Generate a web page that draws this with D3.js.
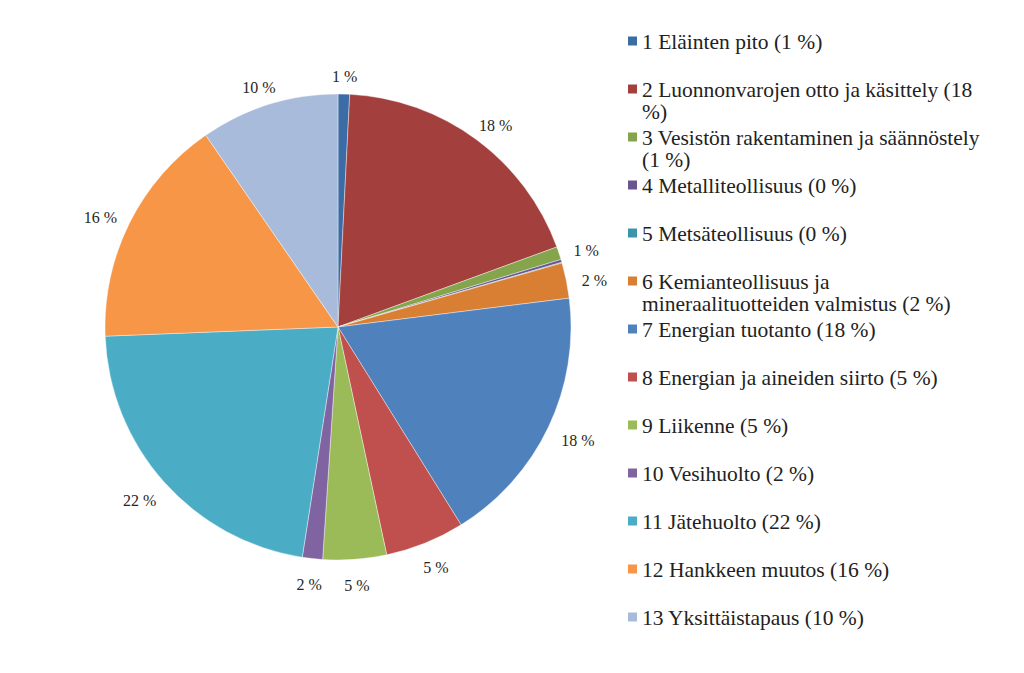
<!DOCTYPE html>
<html>
<head>
<meta charset="utf-8">
<script src="https://cdn.jsdelivr.net/npm/d3@7"></script>
</head>
<body style="margin:0">
<svg id="chart" width="1024" height="673"></svg>
<script>
// category names (legend order = slice order, clockwise from 12 o'clock)
var categories = [
  "1 Eläinten pito", "2 Luonnonvarojen otto ja käsittely", "3 Vesistön rakentaminen ja säännöstely",
  "4 Metalliteollisuus", "5 Metsäteollisuus", "6 Kemianteollisuus ja mineraalituotteiden valmistus",
  "7 Energian tuotanto", "8 Energian ja aineiden siirto", "9 Liikenne", "10 Vesihuolto",
  "11 Jätehuolto", "12 Hankkeen muutos", "13 Yksittäistapaus"
];
// share of cases
var values = [0.8, 18.6, 0.9, 0.2, 0.05, 2.45, 18.1, 5.5, 4.4, 1.4, 21.9, 16.0, 9.6];
// data labels shown on the chart
var pctLabels = ["1 %", "18 %", "1 %", "", "", "2 %", "18 %", "5 %", "5 %", "2 %", "22 %", "16 %", "10 %"];
// legend text, broken where the original breaks
var legendLabels = [
  ["1 Eläinten pito (1 %)"],
  ["2 Luonnonvarojen otto ja käsittely (18", "%)"],
  ["3 Vesistön rakentaminen ja säännöstely", "(1 %)"],
  ["4 Metalliteollisuus (0 %)"],
  ["5 Metsäteollisuus (0 %)"],
  ["6 Kemianteollisuus ja", "mineraalituotteiden valmistus (2 %)"],
  ["7 Energian tuotanto (18 %)"],
  ["8 Energian ja aineiden siirto (5 %)"],
  ["9 Liikenne (5 %)"],
  ["10 Vesihuolto (2 %)"],
  ["11 Jätehuolto (22 %)"],
  ["12 Hankkeen muutos (16 %)"],
  ["13 Yksittäistapaus (10 %)"]
];
var sliceColors = ["#3c6ca6", "#a3403d", "#85a54c", "#6a5492", "#3a94ac", "#d97f33",
                   "#4f81bd", "#c0504d", "#9bbb59", "#8064a2", "#4bacc6", "#f79646", "#a9bbdb"];

var FONT = "'Liberation Serif', 'Times New Roman', serif";

var svg = d3.select("#chart"),
    cx = 338, cy = 327, radius = 233;

var color = d3.scaleOrdinal().domain(categories).range(sliceColors);

var pie = d3.pie().sort(null).value(function(d) { return d.value; });
var arc = d3.arc().innerRadius(0).outerRadius(radius);

var data = categories.map(function(c, i) {
  return {name: c, value: values[i], label: pctLabels[i], legend: legendLabels[i]};
});
var arcs = pie(data);

var g = svg.append("g").attr("transform", "translate(" + cx + "," + cy + ")");

g.selectAll("path.slice")
  .data(arcs)
  .enter().append("path")
  .attr("class", "slice")
  .attr("d", arc)
  .attr("fill", function(d) { return color(d.data.name); })
  .attr("stroke", "#fff")
  .attr("stroke-width", 0.4);

// outside-end labels: text box sits just outside the rim along the mid angle
var labelArc = d3.arc().innerRadius(radius + 8).outerRadius(radius + 8);
var labels = g.selectAll("text.pct")
  .data(arcs.filter(function(d) { return d.data.label !== ""; }))
  .enter().append("text")
  .attr("class", "pct")
  .style("font-family", FONT)
  .attr("font-size", 16)
  .attr("fill", "#262626")
  .attr("text-anchor", "middle")
  .attr("dy", "0.35em")
  .text(function(d) { return d.data.label; });

labels.each(function(d) {
  var w = this.getComputedTextLength() + 16, h = 28;
  var a = (d.startAngle + d.endAngle) / 2;
  var c = labelArc.centroid(d);
  d3.select(this)
    .attr("x", c[0] + Math.sin(a) * w / 2)
    .attr("y", c[1] - Math.cos(a) * h / 2 + 4);
});

// legend
var legendY = d3.scalePoint().domain(categories).range([41, 617]);
var legend = svg.append("g").attr("class", "legend");
var item = legend.selectAll("g.item")
  .data(data)
  .enter().append("g")
  .attr("class", "item")
  .attr("transform", function(d) { return "translate(628," + legendY(d.name) + ")"; });

item.append("rect")
  .attr("x", 0).attr("y", -4.5)
  .attr("width", 9).attr("height", 9)
  .attr("fill", function(d) { return color(d.name); });

item.each(function(d) {
  d.legend.forEach(function(line, k) {
    d3.select(this).append("text")
      .style("font-family", FONT)
      .attr("font-size", 21.5)
      .attr("fill", "#222")
      .attr("x", 14)
      .attr("y", k * 22)
      .attr("dy", "0.35em")
      .text(line);
  }, this);
});
</script>
</body>
</html>
